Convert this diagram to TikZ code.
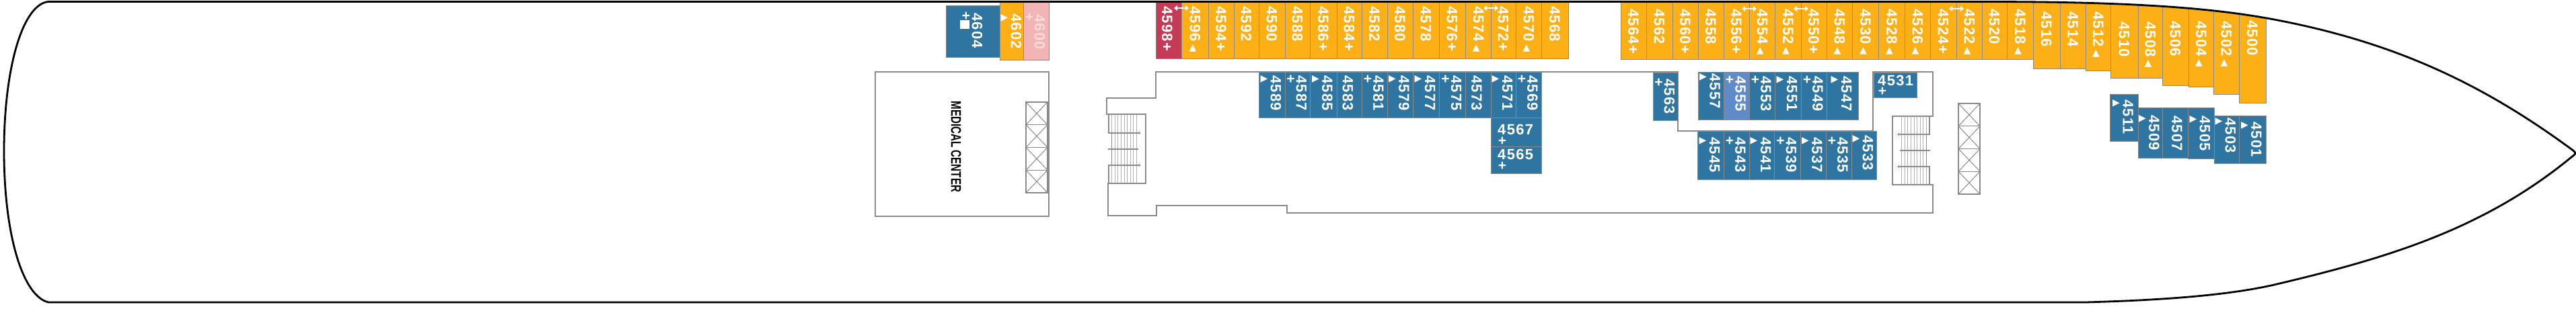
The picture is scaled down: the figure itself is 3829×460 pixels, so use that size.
\documentclass[tikz,border=0pt]{standalone}
\usepackage{fontspec}
\setmainfont{Liberation Sans}
\newfontfamily\numfont[LetterSpace=6]{Liberation Sans}
\newfontfamily\symfont{DejaVu Sans}
\usetikzlibrary{arrows.meta}
\definecolor{cabinorange}{HTML}{FDB015}
\definecolor{cabinblue}{HTML}{2F75A2}
\definecolor{cabinlight}{HTML}{5F8CC8}
\definecolor{cabinred}{HTML}{C53A55}
\definecolor{cabinpink}{HTML}{F3B4B6}
\definecolor{pinktext}{HTML}{FBDADA}
\definecolor{wallgray}{HTML}{8A8A8A}
\definecolor{treadgray}{HTML}{B0B0B0}
\tikzset{
  wall/.style={draw=wallgray,line width=2pt,line join=miter},
  liftline/.style={draw=wallgray,line width=1.4pt},
  hullline/.style={draw=black,line width=2.8pt,line join=round},
  roombox/.style={draw=wallgray,line width=1pt,inner sep=0pt,outer sep=0pt,rectangle},
  numtext/.style={text=white,inner sep=0pt,font=\numfont\bfseries\fontsize{22}{22}\selectfont},
  numdown/.style={numtext,rotate=-90,anchor=west},
  numflat/.style={numtext,anchor=west},
  marktext/.style={text=white,inner sep=0pt,font=\bfseries\fontsize{21}{21}\selectfont},
  triangtext/.style={text=white,inner sep=0pt,font=\symfont\fontsize{14}{14}\selectfont},
  linkarrow/.style={draw=white,line width=2.2pt,{Triangle[width=8pt,length=5pt]}-{Triangle[width=8pt,length=5pt]}},
}
\newcommand{\upmark}{{\symfont\fontsize{14}{14}\selectfont\hspace{4pt}\raisebox{0.5pt}{◀}}}
\newcommand{\plusmark}{\hspace{1pt}+}
\newcommand{\room}[6]{%
  \pgfmathsetmacro\roomw{#3-#1}\pgfmathsetmacro\roomh{#4-#2}%
  \node[roombox,fill=#5,anchor=north west,minimum width=\roomw pt,minimum height=\roomh pt] (r#6) at (#1,#2) {};}
\newcommand{\topcab}[6]{%
  \room{#1}{0}{#2}{#3}{cabinorange}{#5}%
  \pgfmathsetmacro\midx{(#1+#2)/2}%
  \node[numdown] (n#5) at (\midx,#4) {#5#6};}
\newcommand{\bluetri}[7]{%
  \room{#1}{#2}{#3}{#4}{cabinblue}{#6}%
  \pgfmathsetmacro\midx{(#1+#3)/2+6}\pgfmathsetmacro\mkx{(#1+#3)/2-11.5}\pgfmathsetmacro\mky{#5+6}%
  \node[numdown] (n#6) at (\midx,#5) {#6};
  \node[triangtext] (m#6) at (\mkx,\mky) {▶};}
\newcommand{\blueplus}[7]{%
  \room{#1}{#2}{#3}{#4}{#7}{#6}%
  \pgfmathsetmacro\midx{(#1+#3)/2+6}\pgfmathsetmacro\mkx{(#1+#3)/2-10}\pgfmathsetmacro\mky{#5+6}%
  \node[numdown] (n#6) at (\midx,#5) {#6};
  \node[marktext] (m#6) at (\mkx,\mky) {+};}
\newcommand{\blueplain}[7]{%
  \room{#1}{#2}{#3}{#4}{cabinblue}{#6}%
  \pgfmathsetmacro\midx{(#1+#3)/2+#7}%
  \node[numdown] (n#6) at (\midx,#5) {#6};}
\newcommand{\lift}[2]{%
  \begin{scope}[shift={(#1,#2)}]
    \foreach \cy in {0,1,2,3} {
      \draw[liftline] (0,\cy*33.75) rectangle (32,\cy*33.75+33.75);
      \draw[liftline,line width=1pt] (0,\cy*33.75) -- (32,\cy*33.75+33.75) (32,\cy*33.75) -- (0,\cy*33.75+33.75);
    }
  \end{scope}}
\newcommand{\stairflight}{%
  \foreach \tx in {1648,1652.6,...,1690} {
    \draw[treadgray,line width=0.9pt] (\tx,171) -- (\tx,198) (\tx,246) -- (\tx,272);
  }
  \foreach \tx in {1652.6,1657.2,...,1690} {
    \draw[treadgray,line width=0.9pt] (\tx,198) -- (\tx,246);
  }
  \draw[wallgray,line width=1.3pt] (1648,171) -- (1648,198) -- (1692,198);
  \draw[wallgray,line width=1.3pt] (1648,272) -- (1648,246) -- (1692,246);
  \draw[wallgray,line width=1.3pt] (1652.6,198) -- (1652.6,246);
  \draw[wallgray,line width=2pt] (1647,222) -- (1692,222);
  \draw[wallgray,line width=0.8pt] (1693.5,198) circle (1.5) (1693.5,246) circle (1.5);
}
\newcommand{\hullpath}{(72,2.5) -- (2950,2.5) .. controls (3150,2.5) and (3280,10) .. (3380,29)
  .. controls (3560,63) and (3690,125) .. (3822,222)
  .. controls (3830,228) and (3830,228) .. (3822,234)
  .. controls (3692,341) and (3550,384) .. (3380,424)
  .. controls (3310,440) and (3210,447) .. (3100,450)
  -- (72,450)
  .. controls (34,441) and (6,350) .. (6,225)
  .. controls (6,100) and (34,6) .. (72,2.5) -- cycle}
\begin{document}
\begin{tikzpicture}[x=1pt,y=-1pt]
\useasboundingbox (0,0) rectangle (3829,460);
\fill[white] (0,0) rectangle (3829,460);

% deck outline
\draw[wall] (1718,107) -- (1718,146) -- (1645,146) -- (1645,170) -- (1703,170) -- (1703,273)
  -- (1647,273) -- (1647,321) -- (1719,321) -- (1719,306) -- (1913,306) -- (1913,317)
  -- (2873,317) -- (2873,275) -- (2813,275) -- (2813,173) -- (2873,173) -- (2873,107)
  -- (2784,107) -- (2784,195) -- (2494,195) -- (2494,107) -- cycle;
\stairflight
\begin{scope}[shift={(4516,2)},xscale=-1]
  \stairflight
\end{scope}

% medical centre
\draw[wall] (1301,107) rectangle (1559,322);
\node[inner sep=0pt,rotate=-90,text=black,font=\bfseries\fontsize{21}{21}\selectfont] (medical) at (1421,218.5) {\scalebox{0.72}[1]{MEDICAL CENTER}};
\lift{1525}{152}
\lift{2911}{154}

\begin{scope}
\clip \hullpath;

\room{1406}{9}{1486}{85}{cabinblue}{4604}
\node[numdown] (n4604) at (1452.5,19) {4604};
\node[marktext] (m4604) at (1436,24.5) {+};
\node[inner sep=0pt,fill=white,minimum size=13.5pt] (s4604) at (1434,36.5) {};
\room{1486}{0}{1521}{89}{cabinorange}{4602}
\node[numdown] (n4602) at (1510.5,20) {4602};
\node[triangtext] (m4602) at (1493,26.5) {▶};
\room{1521}{0}{1559}{89}{cabinpink}{4600}
\node[numdown,text=pinktext] (n4600) at (1545.5,21) {4600};
\node[marktext,text=pinktext] (m4600) at (1530,26) {+};

% outer top row
\room{1718}{0}{1756}{87}{cabinred}{4598}
\node[numdown] (n4598) at (1735,9) {4598\plusmark};
\topcab{1756}{1796}{87}{9}{4596}{\upmark}
\topcab{1796}{1834}{87}{9}{4594}{\plusmark}
\topcab{1834}{1871}{87}{9}{4592}{}
\topcab{1871}{1910}{87}{9}{4590}{}
\topcab{1910}{1947}{87}{9}{4588}{}
\topcab{1947}{1987}{87}{9}{4586}{\plusmark}
\topcab{1987}{2024}{87}{9}{4584}{\plusmark}
\topcab{2024}{2062}{87}{9}{4582}{}
\topcab{2062}{2100}{87}{9}{4580}{}
\topcab{2100}{2139}{87}{9}{4578}{}
\topcab{2139}{2178}{87}{9}{4576}{\plusmark}
\topcab{2178}{2216}{87}{9}{4574}{\upmark}
\topcab{2216}{2253}{87}{9}{4572}{\plusmark}
\topcab{2253}{2291}{87}{9}{4570}{\upmark}
\topcab{2291}{2331}{87}{9}{4568}{}

\topcab{2409}{2447}{88}{13}{4564}{\plusmark}
\topcab{2447}{2486}{88}{13}{4562}{}
\topcab{2486}{2524}{88}{13}{4560}{\plusmark}
\topcab{2524}{2562}{88}{13}{4558}{}
\topcab{2562}{2600}{88}{13}{4556}{\plusmark}
\topcab{2600}{2638}{88}{13}{4554}{\upmark}
\topcab{2638}{2677}{88}{13}{4552}{\upmark}
\topcab{2677}{2715}{88}{13}{4550}{\plusmark}
\topcab{2715}{2753}{88}{13}{4548}{\upmark}
\topcab{2753}{2792}{88}{13}{4530}{\upmark}
\topcab{2792}{2831}{88}{13}{4528}{\upmark}
\topcab{2831}{2869}{88}{13}{4526}{\upmark}
\topcab{2869}{2908}{88}{13}{4524}{\plusmark}
\topcab{2908}{2946}{88}{13}{4522}{\upmark}
\topcab{2946}{2983}{88}{13}{4520}{}
\topcab{2983}{3022}{88}{13}{4518}{\upmark}
\topcab{3022}{3062}{102}{17}{4516}{}
\topcab{3062}{3100}{102}{17}{4514}{}
\topcab{3100}{3137}{105}{17}{4512}{\upmark}
\topcab{3137}{3178}{116}{32}{4510}{}
\topcab{3178}{3214}{116}{32}{4508}{\upmark}
\topcab{3214}{3253}{127}{31}{4506}{}
\topcab{3253}{3290}{129}{31}{4504}{\upmark}
\topcab{3290}{3328}{140}{31}{4502}{\upmark}
\topcab{3328}{3368}{153}{30}{4500}{}

% inner blue rows
\bluetri{1871}{107}{1910}{175}{112}{4589}{}
\blueplus{1910}{107}{1947}{175}{112}{4587}{cabinblue}
\bluetri{1947}{107}{1987}{175}{112}{4585}{}
\blueplain{1987}{107}{2024}{175}{112}{4583}{-2}
\blueplus{2024}{107}{2062}{175}{112}{4581}{cabinblue}
\bluetri{2062}{107}{2100}{175}{112}{4579}{}
\bluetri{2100}{107}{2139}{175}{112}{4577}{}
\blueplus{2139}{107}{2178}{175}{112}{4575}{cabinblue}
\blueplain{2178}{107}{2216}{175}{112}{4573}{-2}
\bluetri{2216}{107}{2253}{175}{112}{4571}{}
\blueplus{2253}{107}{2291}{175}{112}{4569}{cabinblue}

\room{2216}{175}{2291}{218}{cabinblue}{4567}
\node[numflat] (n4567) at (2226,193) {4567};
\node[marktext] (m4567) at (2233,210) {+};
\room{2216}{218}{2291}{258}{cabinblue}{4565}
\node[numflat] (n4565) at (2226,230) {4565};
\node[marktext] (m4565) at (2233,247) {+};

\blueplus{2457}{108}{2494}{179}{117}{4563}{cabinblue}

\bluetri{2524}{107}{2562}{178}{109}{4557}{}
\blueplus{2562}{107}{2600}{178}{113}{4555}{cabinlight}
\blueplus{2600}{107}{2638}{178}{113}{4553}{cabinblue}
\bluetri{2638}{107}{2677}{178}{113}{4551}{}
\blueplus{2677}{107}{2715}{178}{113}{4549}{cabinblue}
\bluetri{2715}{107}{2762}{178}{113}{4547}{}

\room{2785}{108}{2849}{145}{cabinblue}{4531}
\node[numflat] (n4531) at (2791,120) {4531};
\node[marktext] (m4531) at (2798,136) {+};

\bluetri{2523}{195}{2562}{267}{204}{4545}{}
\blueplus{2562}{195}{2600}{267}{204}{4543}{cabinblue}
\bluetri{2600}{195}{2637}{267}{204}{4541}{}
\blueplus{2637}{195}{2676}{267}{204}{4539}{cabinblue}
\bluetri{2676}{195}{2714}{267}{204}{4537}{}
\blueplus{2714}{195}{2752}{267}{204}{4535}{cabinblue}
\bluetri{2752}{195}{2789}{267}{201}{4533}{}

\bluetri{3136}{140}{3178}{210}{148}{4511}{}
\bluetri{3178}{160}{3214}{235}{171}{4509}{}
\blueplain{3214}{160}{3252}{235}{172}{4507}{3}
\bluetri{3252}{160}{3291}{236}{172}{4505}{}
\bluetri{3291}{172}{3328}{243}{175}{4503}{}
\bluetri{3328}{172}{3368}{243}{181}{4501}{}

% door links
\foreach \bx/\by/\lk in {1756/12/a,2216/12/b,2600/13/c,2677/13/d,2908/13/e} {
  \coordinate (la\lk) at (\bx-11,\by);
  \coordinate (lb\lk) at (\bx+11,\by);
  \draw[linkarrow] (la\lk) -- (lb\lk);
}
\end{scope}

% hull
\draw[hullline] \hullpath;
\end{tikzpicture}
\end{document}
